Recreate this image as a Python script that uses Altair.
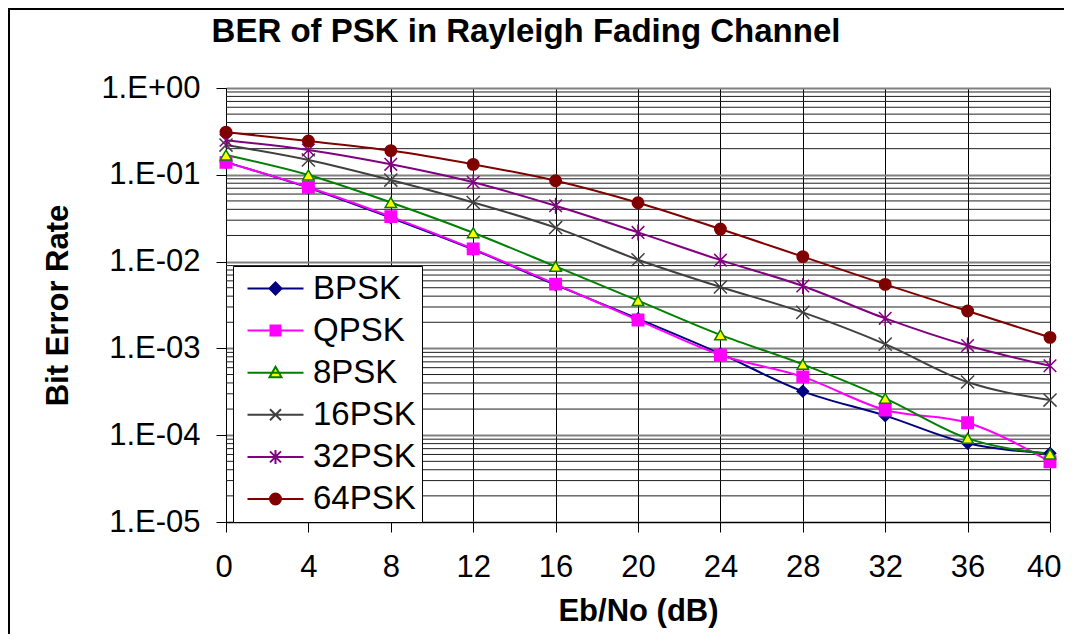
import altair as alt
import pandas as pd

# ---- data ----
snr_db = [0, 4, 8, 12, 16, 20, 24, 28, 32, 36, 40]
series_names = ["BPSK", "QPSK", "8PSK", "16PSK", "32PSK", "64PSK"]
ber_bpsk = [0.140, 0.071, 0.032, 0.0138, 0.0054, 0.0022, 0.00087, 0.00032, 0.000168, 0.0000806, 0.000062]
ber_qpsk = [0.139, 0.072, 0.033, 0.0140, 0.0055, 0.00212, 0.00084, 0.00047, 0.000195, 0.000139, 0.0000495]
ber_8psk = [0.169, 0.0995, 0.048, 0.0215, 0.0088, 0.00355, 0.00143, 0.000655, 0.000266, 0.000092, 0.0000607]
ber_16psk = [0.220, 0.148, 0.087, 0.048, 0.0246, 0.0105, 0.0051, 0.0026, 0.00112, 0.00041, 0.000254]
ber_32psk = [0.250, 0.193, 0.132, 0.082, 0.044, 0.0217, 0.0104, 0.00524, 0.00222, 0.00108, 0.00063]
ber_64psk = [0.310, 0.245, 0.190, 0.132, 0.0855, 0.0477, 0.0237, 0.0114, 0.00547, 0.0027, 0.00134]

x_ticks = [0, 4, 8, 12, 16, 20, 24, 28, 32, 36, 40]
y_major = [1e-5, 1e-4, 1e-3, 1e-2, 1e-1, 1.0]
y_labels = ["1.E-05", "1.E-04", "1.E-03", "1.E-02", "1.E-01", "1.E+00"]
y_minor = [m * d for d in [1e-5, 1e-4, 1e-3, 1e-2, 1e-1] for m in range(2, 10)]

line_colors = ["#000080", "#FF00FF", "#008000", "#404040", "#800080", "#800000"]
fill_colors = ["#000080", "#FF00FF", "#FFFF00", "transparent", "transparent", "#800000"]
# marker shapes for the data points
shapes = ["diamond", "square", "triangle-up",
          "M-1.15,-1.15L1.15,1.15M-1.15,1.15L1.15,-1.15",
          "M-1.1,-1.1L1.1,1.1M-1.1,1.1L1.1,-1.1M0,-1.4L0,1.4",
          "circle"]
# legend symbols: a line segment with the marker on it
seg = "M-2.8,0H2.8"
legend_shapes = [
    seg + "M0,-0.6L0.6,0L0,0.6L-0.6,0Z",
    seg + "M-0.5,-0.5H0.5V0.5H-0.5Z",
    seg + "M0,-0.6L0.6,0.45H-0.6Z",
    seg + "M-0.55,-0.55L0.55,0.55M-0.55,0.55L0.55,-0.55",
    seg + "M-0.55,-0.55L0.55,0.55M-0.55,0.55L0.55,-0.55M0,-0.7V0.7",
    seg + "M-0.55,0A0.55,0.55 0 1,0 0.55,0A0.55,0.55 0 1,0 -0.55,0Z",
]

all_series = [ber_bpsk, ber_qpsk, ber_8psk, ber_16psk, ber_32psk, ber_64psk]
rows = []
for name, vals in zip(series_names, all_series):
    for x, v in zip(snr_db, vals):
        rows.append({"snr": x, "ber": v, "series": name})
df = pd.DataFrame(rows)
minor_df = pd.DataFrame({"ber": y_minor})

FONT = "Liberation Sans"
W, H = 824, 434
PAD_L, PAD_T = 218, 80

x_axis = alt.Axis(values=x_ticks, title="Eb/No (dB)", grid=True, gridColor="#000000",
                  gridWidth=1, tickSize=10, tickColor="#000000", domainColor="#000000",
                  labelFontSize=31, labelFont=FONT, labelPadding=20, labelColor="#000000",
                  titleFontSize=31, titleFont=FONT, titleFontWeight="bold",
                  titleColor="#000000", titlePadding=14, labelFlush=True, labelFlushOffset=11)

label_expr = "{}[round(log(datum.value)/LN10) + 5]".format(str(y_labels))

y_axis = alt.Axis(values=y_major, labelExpr=label_expr, title="Bit Error Rate",
                  grid=True, gridColor="#808080", gridWidth=2, tickSize=10,
                  tickColor="#000000", domainColor="#000000",
                  labelFontSize=31, labelFont=FONT, labelPadding=16, labelColor="#000000",
                  titleFontSize=31, titleFont=FONT, titleFontWeight="bold",
                  titleColor="#000000", titlePadding=26)

x_scale = alt.Scale(domain=[0, 40], nice=False)
y_scale = alt.Scale(type="log", domain=[1e-5, 1], nice=False)

minor_grid = alt.Chart(minor_df).mark_rule(color="#202020", strokeWidth=1).encode(
    y=alt.Y("ber:Q", scale=y_scale, axis=y_axis),
)

base = alt.Chart(df)
X = alt.X("snr:Q", scale=x_scale, axis=x_axis)
Y = alt.Y("ber:Q", scale=y_scale, axis=y_axis)

lines = base.mark_line(strokeWidth=2, interpolate="monotone").encode(
    x=X, y=Y,
    color=alt.Color("series:N", scale=alt.Scale(domain=series_names, range=line_colors),
                    legend=None),
)

points = base.mark_point(filled=True, opacity=1, size=130, strokeWidth=1.5).encode(
    x=X, y=Y,
    stroke=alt.Stroke("series:N", scale=alt.Scale(domain=series_names, range=line_colors),
                      legend=None),
    fill=alt.Fill("series:N", scale=alt.Scale(domain=series_names, range=fill_colors),
                  legend=None),
    shape=alt.Shape("series:N", scale=alt.Scale(domain=series_names, range=shapes),
                    legend=None),
)

leg = alt.Legend(title=None, orient="none", legendX=7, legendY=178,
                 symbolSize=400, symbolStrokeWidth=2, symbolOpacity=1, symbolOffset=20,
                 labelFontSize=33, labelFont=FONT, labelColor="#000000",
                 labelOffset=21, rowPadding=8.1, padding=6,
                 fillColor="#FFFFFF", strokeColor="#000000")

legend_layer = base.mark_point(filled=True, opacity=0, size=1).encode(
    x=X, y=Y,
    stroke=alt.Stroke("series:N", scale=alt.Scale(domain=series_names, range=line_colors),
                      legend=leg),
    fill=alt.Fill("series:N", scale=alt.Scale(domain=series_names, range=fill_colors),
                  legend=leg),
    shape=alt.Shape("series:N", scale=alt.Scale(domain=series_names, range=legend_shapes),
                    legend=leg),
)

frame = alt.Chart(alt.Data(values=[{"k": 1}])).mark_rect(
    fill="transparent", stroke="#000000", strokeWidth=2).encode(
    x=alt.value(-PAD_L + 1), y=alt.value(-PAD_T + 1),
    x2=alt.value(W + 200), y2=alt.value(H + 300),
)

chart = alt.layer(minor_grid, lines, points, legend_layer, frame).resolve_scale(
    shape="independent", stroke="independent", fill="independent"
).properties(
    width=W, height=H,
    title=alt.TitleParams("BER of PSK in Rayleigh Fading Channel", font=FONT, fontSize=33,
                          fontWeight="bold", color="#000000", anchor="middle", dx=-112,
                          offset=0, dy=41),
    padding={"left": PAD_L, "top": PAD_T, "right": 14, "bottom": 112},
    autosize=alt.AutoSizeParams(type="none"),
).configure_view(stroke="#808080", strokeWidth=2).configure(background="#FFFFFF")

chart.save("out.html", embed_options={"renderer": "svg", "actions": False})
